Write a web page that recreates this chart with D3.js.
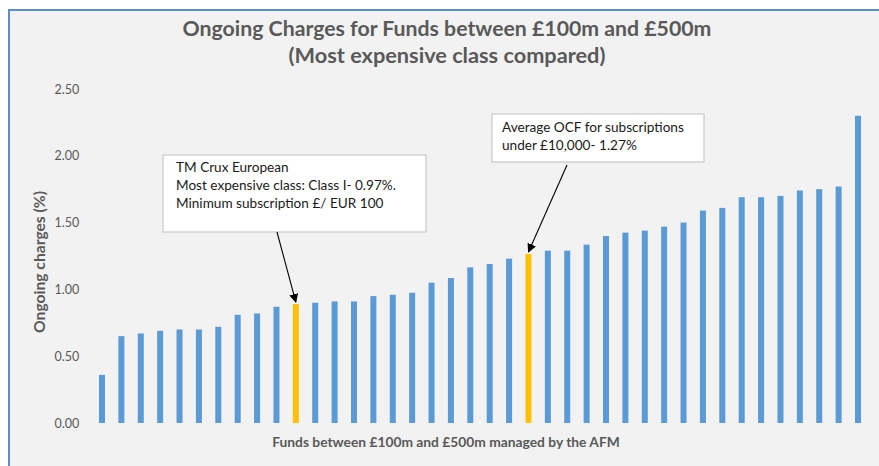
<!DOCTYPE html>
<html>
<head>
<meta charset="utf-8">
<script src="https://cdn.jsdelivr.net/npm/d3@7"></script>
<style>
  html, body { margin: 0; padding: 0; background: #ffffff; }
  svg { display: block; }
</style>
</head>
<body>
<svg id="chart" width="879" height="466"></svg>
<script>
// ---- data ----
const funds = d3.range(1, 41).map(i => "Fund " + i);
const ongoingCharges = [
  0.36, 0.65, 0.67, 0.69, 0.70, 0.70, 0.72, 0.81, 0.82, 0.87,
  0.89, 0.90, 0.91, 0.91, 0.95, 0.96, 0.975, 1.05, 1.085, 1.165,
  1.19, 1.23, 1.265, 1.29, 1.29, 1.335, 1.40, 1.425, 1.44, 1.47,
  1.50, 1.59, 1.61, 1.69, 1.69, 1.70, 1.74, 1.75, 1.77, 2.30
];
const highlighted = ["Fund 11", "Fund 23"];
const yTicks = [0, 0.5, 1.0, 1.5, 2.0, 2.5];
const titleLines = ["Ongoing Charges for Funds between £100m and £500m", "(Most expensive class compared)"];
const yAxisTitle = "Ongoing charges (%)";
const xAxisTitle = "Funds between £100m and £500m managed by the AFM";
const annotations = [
  { target: "Fund 11", lines: ["TM Crux European", "Most expensive class: Class I- 0.97%.", "Minimum subscription £/ EUR 100"] },
  { target: "Fund 23", lines: ["Average OCF for subscriptions", "under £10,000- 1.27%"] }
];

// ---- layout ----
const svg = d3.select("#chart");
const font = "Lato, 'Open Sans', 'DejaVu Sans', sans-serif";
const textGrey = "#595959";

svg.append("defs").append("marker")
  .attr("id", "arrow").attr("viewBox", "0 0 10 10")
  .attr("refX", 9).attr("refY", 5)
  .attr("markerWidth", 9).attr("markerHeight", 9)
  .attr("markerUnits", "userSpaceOnUse")
  .attr("orient", "auto")
  .append("path").attr("d", "M0,0 L10,5 L0,10 Z").attr("fill", "#000");

// chart frame
svg.append("rect")
  .attr("x", 9).attr("y", 10).attr("width", 900).attr("height", 480)
  .attr("fill", "#f2f2f2").attr("stroke", "#5b8ed0").attr("stroke-width", 2);

const plot = { left: 92.3, right: 867.7, top: 89, bottom: 423 };

const x = d3.scaleBand().domain(funds).range([plot.left, plot.right]).padding(0);
const y = d3.scaleLinear().domain([0, 2.5]).range([plot.bottom, plot.top]);
const barW = x.bandwidth() * 0.31;

function fit(sel, target) {
  const w = sel.node().getComputedTextLength();
  const fs = parseFloat(sel.attr("font-size"));
  sel.attr("font-size", fs * target / w);
}

// title
const t1 = svg.append("text").attr("x", 447).attr("y", 36)
  .attr("text-anchor", "middle").attr("font-family", font).attr("font-weight", "bold")
  .attr("font-size", 18).attr("fill", textGrey).text(titleLines[0]);
fit(t1, 529);
const t2 = svg.append("text").attr("x", 447).attr("y", 63)
  .attr("text-anchor", "middle").attr("font-family", font).attr("font-weight", "bold")
  .attr("font-size", 18).attr("fill", textGrey).text(titleLines[1]);
fit(t2, 317);

// y axis
const yAxis = svg.append("g")
  .attr("transform", `translate(${plot.left - 4},0)`)
  .call(d3.axisLeft(y).tickValues(yTicks).tickFormat(d3.format(".2f")).tickSize(0).tickPadding(9));
yAxis.select(".domain").remove();
yAxis.selectAll("text").attr("font-family", font).attr("font-size", 12.5).attr("fill", textGrey);

// bars
svg.append("g").selectAll("rect").data(funds).join("rect")
  .attr("x", d => x(d) + x.bandwidth() / 2 - barW / 2)
  .attr("width", barW)
  .attr("y", (d, i) => y(ongoingCharges[i]))
  .attr("height", (d, i) => y(0) - y(ongoingCharges[i]))
  .attr("fill", d => highlighted.includes(d) ? "#ffc000" : "#5b9bd5");

// axis titles
const yt = svg.append("text")
  .attr("transform", `translate(45,262) rotate(-90)`)
  .attr("text-anchor", "middle").attr("font-family", font).attr("font-weight", "bold")
  .attr("font-size", 13).attr("fill", textGrey).text(yAxisTitle);
fit(yt, 142);
const xt = svg.append("text").attr("x", 446).attr("y", 447)
  .attr("text-anchor", "middle").attr("font-family", font).attr("font-weight", "bold")
  .attr("font-size", 12.5).attr("fill", textGrey).text(xAxisTitle);
fit(xt, 348);

// annotations
const boxes = [
  { x0: 163, y0: 155, x1: 426, y1: 232, tx: 176, ty0: 172, dy: 18, ax: 277, ay: 232 },
  { x0: 492, y0: 114, x1: 704, y1: 162, tx: 502, ty0: 132, dy: 17.5, ax: 567, ay: 165 }
];
annotations.forEach((a, k) => {
  const b = boxes[k];
  const i = funds.indexOf(a.target);
  const tipX = x(a.target) + x.bandwidth() / 2;
  const tipY = y(ongoingCharges[i]) - 2;
  svg.append("rect").attr("x", b.x0).attr("y", b.y0)
    .attr("width", b.x1 - b.x0).attr("height", b.y1 - b.y0)
    .attr("fill", "#ffffff").attr("stroke", "#bfbfbf").attr("stroke-width", 1);
  a.lines.forEach((ln, j) => {
    svg.append("text").attr("x", b.tx).attr("y", b.ty0 + j * b.dy)
      .attr("font-family", font).attr("font-size", 13.6).attr("fill", "#1a1a1a").text(ln);
  });
  svg.append("line").attr("x1", b.ax).attr("y1", b.ay).attr("x2", tipX).attr("y2", tipY)
    .attr("stroke", "#000").attr("stroke-width", 1.1).attr("marker-end", "url(#arrow)");
});
</script>
</body>
</html>
